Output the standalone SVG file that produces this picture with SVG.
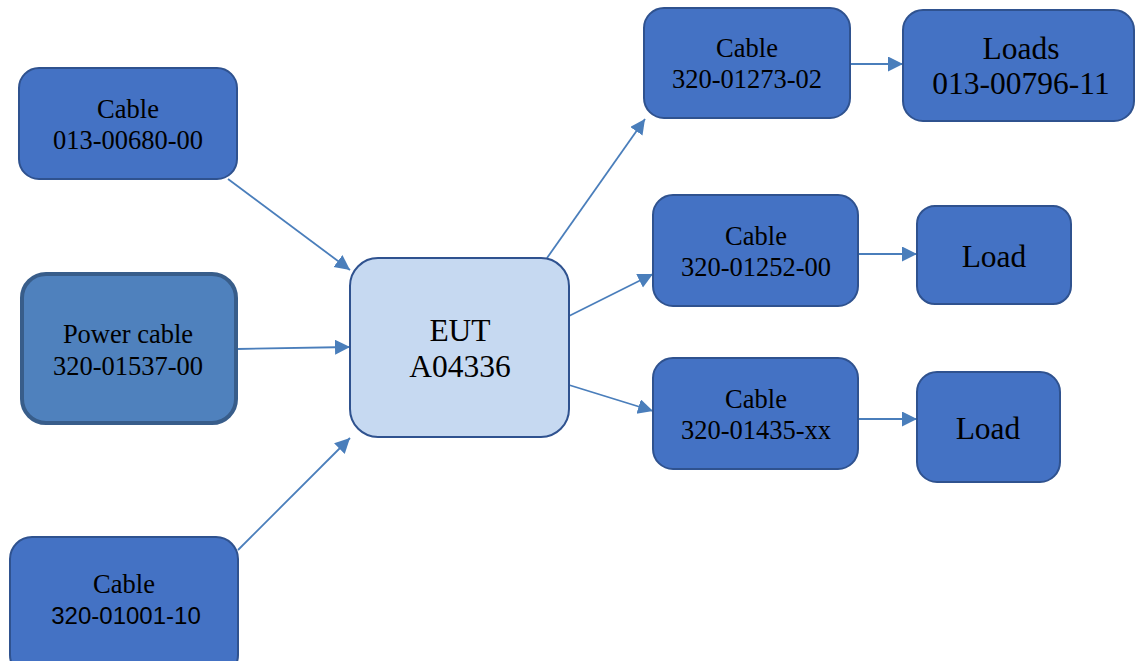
<svg xmlns="http://www.w3.org/2000/svg" width="1135" height="661" viewBox="0 0 1135 661">
  <style>
    .box { fill: #4472C4; stroke: #2F528F; stroke-width: 2; }
    .power { fill: #4F81BD; stroke: #385D8A; stroke-width: 4; }
    .eut { fill: #C6D9F1; stroke: #2F528F; stroke-width: 2; }
    .t { font-family: "Liberation Serif", "Times New Roman", serif; fill: #000; text-anchor: middle; }
    .s22 { font-size: 26.5px; }
    .s28 { font-size: 31.5px; }
    .sans { font-family: "Liberation Sans", Arial, sans-serif; font-size: 24px; fill: #000; text-anchor: middle; }
    .link { stroke: #4A7EBB; stroke-width: 1.8; fill: none; marker-end: url(#arrow); }
  </style>
  <defs>
    <marker id="arrow" markerUnits="userSpaceOnUse" markerWidth="16" markerHeight="16" refX="15" refY="7.5" orient="auto">
      <path d="M0,0 L15,7.5 L0,15 z" fill="#4A7EBB"/>
    </marker>
  </defs>

  <rect width="1135" height="661" fill="#ffffff"/>

  <g id="connectors">
    <line class="link" x1="228" y1="179" x2="350" y2="270"/>
    <line class="link" x1="237" y1="349" x2="350" y2="347"/>
    <line class="link" x1="238" y1="550" x2="350" y2="438"/>
    <line class="link" x1="547" y1="258" x2="645" y2="119"/>
    <line class="link" x1="569" y1="316" x2="653" y2="274"/>
    <line class="link" x1="569" y1="385" x2="653" y2="411"/>
    <line class="link" x1="850" y1="64" x2="903" y2="64"/>
    <line class="link" x1="858" y1="254" x2="917" y2="254"/>
    <line class="link" x1="858" y1="419" x2="917" y2="419"/>
  </g>

  <g id="cable-013-00680-00">
    <rect class="box" x="19" y="68" width="218" height="111" rx="20"/>
    <text class="t s22" x="128" y="118">Cable</text>
    <text class="t s22" x="128" y="149">013-00680-00</text>
  </g>

  <g id="power-cable-320-01537-00">
    <rect class="power" x="22" y="274" width="214" height="149" rx="24"/>
    <text class="t s22" x="128" y="343">Power cable</text>
    <text class="t s22" x="128" y="375">320-01537-00</text>
  </g>

  <g id="cable-320-01001-10">
    <rect class="box" x="10" y="537" width="228" height="140" rx="22"/>
    <text class="t s22" x="124" y="593">Cable</text>
    <text class="sans" x="126" y="624">320-01001-10</text>
  </g>

  <g id="eut-a04336">
    <rect class="eut" x="350" y="258" width="219" height="179" rx="28"/>
    <text class="t s28" x="460" y="341">EUT</text>
    <text class="t s28" x="460" y="377">A04336</text>
  </g>

  <g id="cable-320-01273-02">
    <rect class="box" x="644" y="8" width="206" height="110" rx="20"/>
    <text class="t s22" x="747" y="57">Cable</text>
    <text class="t s22" x="747" y="88">320-01273-02</text>
  </g>

  <g id="loads-013-00796-11">
    <rect class="box" x="903" y="10" width="231" height="111" rx="20"/>
    <text class="t s28" x="1021" y="59">Loads</text>
    <text class="t s28" x="1021" y="94">013-00796-11</text>
  </g>

  <g id="cable-320-01252-00">
    <rect class="box" x="653" y="195" width="205" height="111" rx="20"/>
    <text class="t s22" x="756" y="245">Cable</text>
    <text class="t s22" x="756" y="276">320-01252-00</text>
  </g>

  <g id="load-a">
    <rect class="box" x="917" y="206" width="154" height="98" rx="18"/>
    <text class="t s28" x="994" y="267">Load</text>
  </g>

  <g id="cable-320-01435-xx">
    <rect class="box" x="653" y="358" width="205" height="111" rx="20"/>
    <text class="t s22" x="756" y="408">Cable</text>
    <text class="t s22" x="756" y="439">320-01435-xx</text>
  </g>

  <g id="load-b">
    <rect class="box" x="917" y="372" width="143" height="110" rx="20"/>
    <text class="t s28" x="988" y="439">Load</text>
  </g>
</svg>
